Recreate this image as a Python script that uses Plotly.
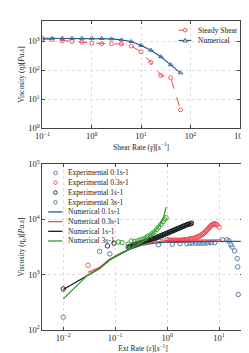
import plotly.graph_objects as go

# ---- top panel: shear viscosity ----
shear_rate = [0.1, 0.158, 0.251, 0.398, 0.631, 1.0, 1.585, 2.512, 3.981, 6.31, 10.0, 15.85, 25.12, 39.81, 63.1]
steady_shear = [1196, 1137, 1026, 975, 926, 858, 815, 815, 794, 681, 430, 185, 66, 55, 4.3]
numerical_shear = [1260, 1260, 1260, 1260, 1260, 1255, 1250, 1200, 1108, 975, 717, 489, 292, 155, 81]

# ---- bottom panel: extensional viscosity ----
exp01_x = [0.079, 0.68, 1.26, 1.78, 2.40, 2.75, 3.09, 3.55, 3.98, 4.47, 5.01, 5.62, 6.31, 7.08, 8.32, 11.7, 14.1, 15.5, 17.0, 17.8, 20.0, 22.4, 22.9, 23.4]
exp01_y = [2370, 3470, 3550, 3630, 3630, 3680, 3720, 3720, 3720, 3720, 3720, 3720, 3800, 3800, 3800, 4270, 4270, 4070, 3470, 3160, 2690, 1950, 1380, 437]

exp03_x = [0.030, 0.417, 0.631, 0.776, 1.0, 1.08, 1.15, 1.23, 1.32, 1.40, 1.48, 1.57, 1.66, 1.76, 1.86, 1.97, 2.09, 2.21, 2.34, 2.48, 2.63, 2.79, 2.95, 3.17, 3.39, 3.60, 3.80, 4.03, 4.27, 4.53, 4.79, 5.01, 5.25, 5.50, 5.75, 6.03, 6.31, 6.61, 6.92, 7.24, 7.59, 7.94, 8.32, 8.71, 9.12, 10.0]
exp03_y = [1480, 4570, 4680, 4680, 4270, 4220, 4170, 4170, 4170, 4170, 4170, 4170, 4170, 4170, 4170, 4220, 4270, 4270, 4270, 4320, 4370, 4420, 4470, 4520, 4570, 4680, 4790, 4900, 5010, 5190, 5370, 5560, 5750, 6020, 6310, 6610, 6920, 7240, 7590, 7850, 8130, 8250, 8320, 8130, 7940, 7240]

exp1_x = [0.01, 0.071, 0.095, 0.178, 0.189, 0.200, 0.212, 0.224, 0.237, 0.251, 0.266, 0.282, 0.299, 0.316, 0.335, 0.355, 0.376, 0.398, 0.422, 0.447, 0.473, 0.501, 0.531, 0.562, 0.596, 0.631, 0.668, 0.708, 0.750, 0.794, 0.841, 0.891, 0.944, 1.0, 1.059, 1.122, 1.189, 1.259, 1.334, 1.413, 1.496, 1.585, 1.679, 1.778, 1.884, 1.995, 2.113, 2.239, 2.371, 2.512, 2.661, 2.818, 2.951]
exp1_y = [550, 3310, 3720, 3160, 3200, 3240, 3310, 3390, 3470, 3550, 3590, 3630, 3710, 3800, 3850, 3890, 3980, 4070, 4120, 4170, 4270, 4370, 4420, 4470, 4570, 4680, 4790, 4900, 5010, 5130, 5250, 5370, 5500, 5620, 5750, 5890, 6030, 6170, 6310, 6460, 6610, 6760, 6920, 7080, 7240, 7410, 7590, 7760, 7940, 8130, 8230, 8320, 8510]

exp3_x = [0.01, 0.050, 0.115, 0.135, 0.178, 0.204, 0.234, 0.269, 0.302, 0.339, 0.380, 0.417, 0.468, 0.513, 0.562, 0.631, 0.692, 0.759, 0.832, 0.891, 0.955]
exp3_y = [170, 2630, 3890, 3800, 3550, 4070, 3980, 4070, 4270, 4370, 4570, 4900, 5130, 5500, 5890, 6610, 7240, 8130, 9120, 10000, 10700]

num01_x = [0.1, 0.18, 0.316, 0.562, 1.0, 3.16, 10.0, 26.3]
num01_y = [2140, 2820, 3390, 3720, 3890, 3980, 3980, 3980]

num03_x = [0.030, 0.050, 0.079, 0.126, 0.180, 0.316, 0.562, 1.0, 3.16, 11.2]
num03_y = [1100, 1350, 1910, 2450, 2880, 3470, 3890, 4170, 4270, 4270]

num1_x = [0.01, 0.0295, 0.050, 0.079, 0.126, 0.178, 0.316, 0.562, 1.0, 1.778, 2.951]
num1_y = [537, 977, 1290, 1860, 2400, 2820, 3550, 4470, 5620, 7080, 8510]

num3_x = [0.01, 0.0295, 0.050, 0.079, 0.126, 0.180, 0.316, 0.417, 0.562, 0.724, 0.851, 0.955]
num3_y = [363, 977, 1290, 1860, 2400, 2880, 3720, 4570, 5890, 7940, 10700, 16600]

top_legend_labels = ["Steady Shear", "Numerical"]
bottom_legend_labels = ["Experimental 0.1s-1", "Experimental 0.3s-1", "Experimental 1s-1", "Experimental 3s-1",
                        "Numerical 0.1s-1", "Numerical 0.3s-1", "Numerical 1s-1", "Numerical 3s-1"]

# tick labels
top_x_ticks = [0.1, 1, 10, 100, 1000]
top_x_text = ["10<sup>−1</sup>", "10<sup>0</sup>", "10<sup>1</sup>", "10<sup>2</sup>", "10<sup>3</sup>"]
top_y_ticks = [1, 10, 100, 1000]
top_y_text = ["10<sup>0</sup>", "10<sup>1</sup>", "10<sup>2</sup>", "10<sup>3</sup>"]
bot_x_ticks = [0.01, 0.1, 1, 10]
bot_x_text = ["10<sup>−2</sup>", "10<sup>−1</sup>", "10<sup>0</sup>", "10<sup>1</sup>"]
bot_y_ticks = [100, 1000, 10000, 100000]
bot_y_text = ["10<sup>2</sup>", "10<sup>3</sup>", "10<sup>4</sup>", "10<sup>5</sup>"]

FONT = "Liberation Serif"
RED = "#ee4a52"
BLUE = "#2e5b8a"
EBLUE = "#4a6fa5"
GREEN = "#2f9a2f"
BLACK = "#1a1a1a"
W, H = 249, 353

fig = go.Figure()

# top
fig.add_trace(go.Scatter(x=shear_rate, y=steady_shear, name=top_legend_labels[0], mode="lines+markers",
                         line=dict(color=RED, width=1, dash="dash"),
                         marker=dict(symbol="circle-open", size=4, color=RED, line=dict(width=0.9)),
                         xaxis="x", yaxis="y", showlegend=False))
fig.add_trace(go.Scatter(x=shear_rate, y=numerical_shear, name=top_legend_labels[1], mode="lines+markers",
                         line=dict(color=BLUE, width=1.2),
                         marker=dict(symbol="triangle-up-open", size=4, color=BLUE, line=dict(width=0.9)),
                         xaxis="x", yaxis="y", showlegend=False))

exp_sets = [(exp01_x, exp01_y, EBLUE), (exp03_x, exp03_y, RED), (exp1_x, exp1_y, BLACK), (exp3_x, exp3_y, GREEN)]
num_sets = [(num01_x, num01_y, BLUE), (num03_x, num03_y, RED), (num1_x, num1_y, BLACK), (num3_x, num3_y, GREEN)]
for i, (xs, ys, c) in enumerate(exp_sets):
    fig.add_trace(go.Scatter(x=xs, y=ys, name=bottom_legend_labels[i], mode="markers",
                             marker=dict(symbol="circle-open", size=4.5, color=c, line=dict(width=0.9)),
                             xaxis="x2", yaxis="y2", showlegend=False))
for i, (xs, ys, c) in enumerate(num_sets):
    fig.add_trace(go.Scatter(x=xs, y=ys, name=bottom_legend_labels[4 + i], mode="lines",
                             line=dict(color=c, width=1.3),
                             xaxis="x2", yaxis="y2", showlegend=False))

# ---- hand-built compact legends (plotly legend rows are too tall for this size) ----
shapes, annotations = [], []

def px(x):
    return x / W

def py(y):
    return 1 - y / H

def legend_text(x, y, text):
    annotations.append(dict(x=px(x), y=py(y), xref="paper", yref="paper", text=text, showarrow=False,
                            xanchor="left", yanchor="middle", font=dict(family=FONT, size=7.5, color="#222")))

def legend_line(x0, x1, y, color, dash="solid", width=1.3):
    shapes.append(dict(type="line", xref="paper", yref="paper", x0=px(x0), x1=px(x1), y0=py(y), y1=py(y),
                       line=dict(color=color, width=width, dash=dash)))

def legend_circle(x, y, color, r=1.8):
    shapes.append(dict(type="circle", xref="paper", yref="paper", xsizemode="pixel", ysizemode="pixel",
                       xanchor=px(x), yanchor=py(y), x0=-r, x1=r, y0=-r, y1=r,
                       line=dict(color=color, width=0.9), fillcolor="white"))

def legend_triangle(x, y, color):
    shapes.append(dict(type="path", xref="paper", yref="paper", xsizemode="pixel", ysizemode="pixel",
                       xanchor=px(x), yanchor=py(y), path="M -2,-1.6 L 2,-1.6 L 0,2 Z",
                       line=dict(color=color, width=0.9), fillcolor="white"))

# top legend
legend_line(172.5, 186, 16.7, RED, dash="dash", width=1)
legend_circle(179.5, 16.7, RED)
legend_text(191, 16.7, top_legend_labels[0])
legend_line(172.5, 186, 27.3, BLUE, width=1.2)
legend_triangle(179.5, 27.3, BLUE)
legend_text(191, 27.3, top_legend_labels[1])

# bottom legend
row_y = [164, 174, 184.3, 194.3, 204.3, 214.3, 224.3, 234.3]
for i, (_, _, c) in enumerate(exp_sets):
    legend_circle(42.7, row_y[i], c)
    legend_text(53.5, row_y[i], bottom_legend_labels[i])
for i, (_, _, c) in enumerate(num_sets):
    legend_line(35, 50, row_y[4 + i], c)
    legend_text(53.5, row_y[4 + i], bottom_legend_labels[4 + i])

axis_common = dict(type="log", showline=True, linecolor="#444",
                   linewidth=1, mirror="ticks", ticks="inside", ticklen=3, tickcolor="#444",
                   showgrid=True, gridcolor="#dddddd", griddash="dot", gridwidth=1,
                   zeroline=False, tickfont=dict(family=FONT, size=8.5, color="#222"))

fig.update_layout(
    width=W, height=H, margin=dict(l=0, r=0, t=0, b=0),
    paper_bgcolor="white", plot_bgcolor="white",
    font=dict(family=FONT, size=8, color="#222"),
    xaxis=dict(axis_common, domain=[0.1165, 0.952], anchor="y", range=[-1, 3],
               tickvals=top_x_ticks, ticktext=top_x_text,
               title=dict(text="Shear Rate (<i>γ̇</i>)[<i>s</i><sup>−1</sup>]", font=dict(family=FONT, size=7.5), standoff=3)),
    yaxis=dict(axis_common, domain=[0.666, 0.980], anchor="x", range=[0, 3.7],
               tickvals=top_y_ticks, ticktext=top_y_text,
               title=dict(text="Viscosity (<i>η</i>)[<i>Pa.s</i>]", font=dict(family=FONT, size=7.5), standoff=2)),
    xaxis2=dict(axis_common, domain=[0.1165, 0.968], anchor="y2", range=[-2.4, 1.47],
                tickvals=bot_x_ticks, ticktext=bot_x_text,
                title=dict(text="Ext Rate (<i>ε̇</i>)[<i>s</i><sup>−1</sup>]", font=dict(family=FONT, size=7.5), standoff=3)),
    yaxis2=dict(axis_common, domain=[0.0765, 0.561], anchor="x2", range=[2, 5],
                tickvals=bot_y_ticks, ticktext=bot_y_text,
                title=dict(text="Viscosity (<i>η<sub>e</sub></i>)[<i>Pa.s</i>]", font=dict(family=FONT, size=7.5), standoff=2)),
    shapes=shapes, annotations=annotations,
    showlegend=False,
)

fig.write_html("out.html")
